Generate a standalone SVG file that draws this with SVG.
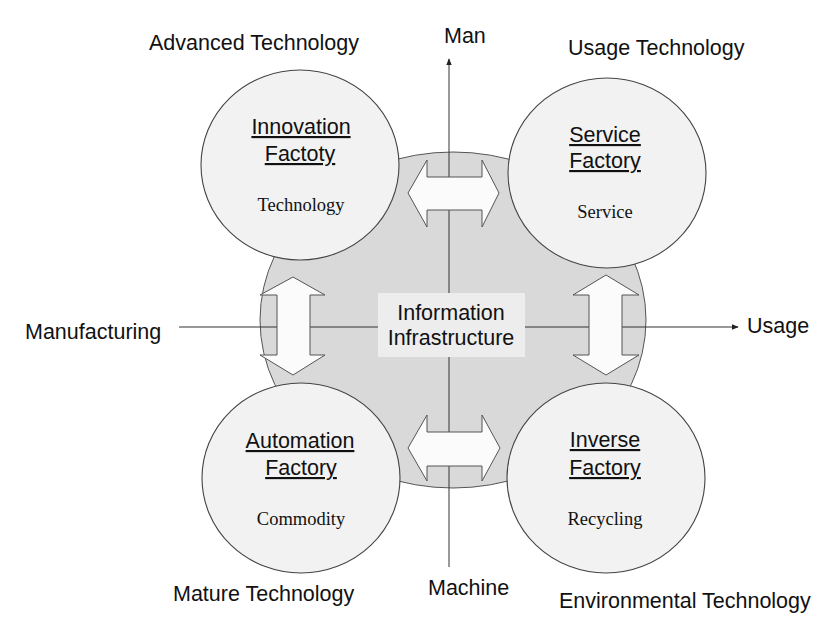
<svg xmlns="http://www.w3.org/2000/svg" width="832" height="628" viewBox="0 0 832 628">
<defs>
<style>
.lbl{font-family:"Liberation Sans",Arial,sans-serif;font-size:21.5px;fill:#111}
.ttl{font-family:"Liberation Sans",Arial,sans-serif;font-size:21.5px;fill:#111;text-anchor:middle;text-decoration:underline}
.sub{font-family:"Liberation Serif","Times New Roman",serif;font-size:18.5px;fill:#111;text-anchor:middle}
.fac{fill:#f2f2f2;stroke:#444;stroke-width:1.1}
.arr{fill:#fbfbfb;stroke:#555;stroke-width:1}
.ln{stroke:#333;stroke-width:1;fill:none}
</style>
<marker id="ah" viewBox="0 0 10 10" refX="9" refY="5" markerWidth="7" markerHeight="7" orient="auto-start-reverse" markerUnits="userSpaceOnUse">
<path d="M0,1 L10,5 L0,9 Z" fill="#222"/>
</marker>
</defs>
<rect width="832" height="628" fill="#ffffff"/>

<g id="info-infrastructure">
<ellipse cx="453" cy="320" rx="193" ry="168" fill="#d9d9d9" stroke="#555" stroke-width="1"/>
</g>

<g id="connectors">
<line class="ln" x1="449" y1="487" x2="449" y2="567"/>
<line class="ln" x1="449" y1="152" x2="449" y2="59" marker-end="url(#ah)"/>
<line class="ln" x1="449" y1="152" x2="449" y2="487"/>
<line class="ln" x1="179" y1="327" x2="647" y2="327"/>
<line class="ln" x1="647" y1="327" x2="738" y2="327" marker-end="url(#ah)"/>
</g>

<g id="info-label">
<rect x="378" y="293" width="147" height="64" fill="#ededed"/>
<text class="lbl" x="451" y="320" text-anchor="middle">Information</text>
<text class="lbl" x="451" y="345" text-anchor="middle">Infrastructure</text>
</g>

<g id="double-arrows">
<polygon id="arrow-top" class="arr" points="408,193 427,160 427,177 482,177 482,160 499,193 482,227 482,210 427,210 427,227"/>
<polygon id="arrow-bottom" class="arr" points="408,448 427,415 427,432 482,432 482,415 500,448 482,481 482,466 427,466 427,481"/>
<polygon id="arrow-left" class="arr" points="293,277 325,295 310,295 310,355 325,355 293,375 260,355 277,355 277,295 260,295"/>
<polygon id="arrow-right" class="arr" points="606,275 639,295 622,295 622,355 639,355 606,375 573,355 589,355 589,295 573,295"/>
</g>

<g id="innovation-factory">
<ellipse class="fac" cx="300" cy="165" rx="99" ry="95"/>
<text class="ttl" x="301" y="134">Innovation</text>
<text class="ttl" x="300" y="161">Factoty</text>
<text class="sub" x="301" y="211">Technology</text>
</g>

<g id="service-factory">
<ellipse class="fac" cx="607" cy="173" rx="99" ry="95"/>
<text class="ttl" x="605" y="142">Service</text>
<text class="ttl" x="605" y="168">Factory</text>
<text class="sub" x="605" y="218">Service</text>
</g>

<g id="automation-factory">
<ellipse class="fac" cx="301" cy="478" rx="99" ry="95"/>
<text class="ttl" x="300" y="448">Automation</text>
<text class="ttl" x="301" y="475">Factory</text>
<text class="sub" x="301" y="525">Commodity</text>
</g>

<g id="inverse-factory">
<ellipse class="fac" cx="606" cy="478" rx="99" ry="95"/>
<text class="ttl" x="605" y="447">Inverse</text>
<text class="ttl" x="605" y="475">Factory</text>
<text class="sub" x="605" y="525">Recycling</text>
</g>

<g id="outer-labels">
<text class="lbl" x="149" y="50">Advanced Technology</text>
<text class="lbl" x="444" y="43">Man</text>
<text class="lbl" x="568" y="55">Usage Technology</text>
<text class="lbl" x="25" y="339">Manufacturing</text>
<text class="lbl" x="747" y="333">Usage</text>
<text class="lbl" x="173" y="601">Mature Technology</text>
<text class="lbl" x="428" y="595">Machine</text>
<text class="lbl" x="559" y="608">Environmental Technology</text>
</g>
</svg>
